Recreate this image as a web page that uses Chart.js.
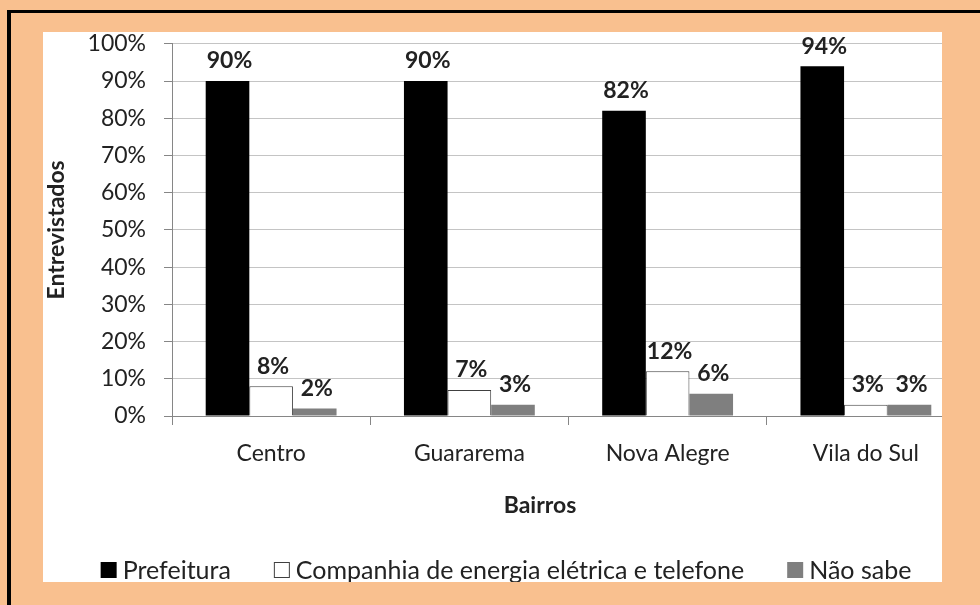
<!DOCTYPE html>
<html lang="pt">
<head>
<meta charset="UTF-8">
<title>Entrevistados por bairro</title>
<script src="https://cdn.jsdelivr.net/npm/chart.js"></script>
<style>
  html, body { margin: 0; padding: 0; }
  body { width: 980px; height: 605px; background: #f9c08f; position: relative; overflow: hidden; }
  /* black frame, only top and left edges are visible */
  .frame { position: absolute; left: 7px; top: 10px; width: 1000px; height: 700px;
           border-top: 3px solid #000; border-left: 4px solid #000; }
  .panel { position: absolute; left: 43px; top: 32px; width: 899px; height: 550px;
           background: #fff; overflow: hidden; }
  #chart { position: absolute; left: 0; top: -20px; }
</style>
</head>
<body>
<div class="frame"></div>
<div class="panel">
  <canvas id="chart" width="926" height="570"></canvas>
</div>

<script>
  const bairros = ['Centro', 'Guararema', 'Nova Alegre', 'Vila do Sul'];
  const prefeitura = [90, 90, 82, 94];
  const companhia = [8, 7, 12, 3];
  const naoSabe = [2, 3, 6, 3];
  const seriesNames = ['Prefeitura', 'Companhia de energia elétrica e telefone', 'Não sabe'];
  const yTicks = [0, 10, 20, 30, 40, 50, 60, 70, 80, 90, 100];

  const FONT = 'Lato, "Open Sans", sans-serif';
  const textColor = '#222';

  // data labels, x axis title and legend are drawn by hand
  const extras = {
    id: 'extras',
    afterDatasetsDraw(chart) {
      const ctx = chart.ctx;
      ctx.save();
      ctx.font = 'bold 23px ' + FONT;
      ctx.fillStyle = textColor;
      ctx.textAlign = 'center';
      ctx.textBaseline = 'middle';
      chart.data.datasets.forEach((ds, i) => {
        chart.getDatasetMeta(i).data.forEach((bar, j) => {
          ctx.fillText(ds.data[j] + '%', bar.x + 2, bar.y - 20);
        });
      });
      ctx.restore();
    },
    afterDraw(chart) {
      const ctx = chart.ctx;
      const area = chart.chartArea;
      ctx.save();
      ctx.fillStyle = textColor;
      ctx.textBaseline = 'middle';

      // x axis title
      ctx.font = 'bold 23px ' + FONT;
      ctx.textAlign = 'center';
      ctx.fillText('Bairros', 497, area.bottom + 90);

      // legend
      ctx.font = '25px ' + FONT;
      ctx.textAlign = 'left';
      const box = 16, gap = 6, spacing = 43;
      const items = chart.data.datasets.map(ds => ({
        text: ds.label, fill: ds.backgroundColor, stroke: ds.borderColor, bw: ds.borderWidth,
        w: box + gap + ctx.measureText(ds.label).width
      }));
      const total = items.reduce((s, it) => s + it.w, 0) + spacing * (items.length - 1);
      let x = chart.width / 2 - total / 2;
      const y = area.bottom + 154;
      items.forEach(it => {
        ctx.fillStyle = it.fill;
        ctx.fillRect(x, y - box / 2, box, box);
        if (it.bw) {
          ctx.strokeStyle = it.stroke;
          ctx.lineWidth = 1;
          ctx.strokeRect(x + 0.5, y - box / 2 + 0.5, box - 1, box - 1);
        }
        ctx.fillStyle = textColor;
        ctx.fillText(it.text, x + box + gap, y + 1);
        x += it.w + spacing;
      });
      ctx.restore();
    }
  };

  new Chart(document.getElementById('chart'), {
    type: 'bar',
    data: {
      labels: bairros,
      datasets: [
        { label: seriesNames[0], data: prefeitura, backgroundColor: '#000000', borderWidth: 0 },
        { label: seriesNames[1], data: companhia, backgroundColor: '#ffffff', borderColor: '#404040', borderWidth: 1 },
        { label: seriesNames[2], data: naoSabe, backgroundColor: '#7f7f7f', borderWidth: 0 }
      ]
    },
    options: {
      responsive: false,
      animation: false,
      layout: { padding: { left: 0, right: 4, top: 11, bottom: 106 } },
      datasets: { bar: { barPercentage: 1, categoryPercentage: 0.66 } },
      plugins: { legend: { display: false }, tooltip: { enabled: false } },
      scales: {
        x: {
          afterFit: s => { s.height = 60; },
          grid: { drawOnChartArea: false, offset: true, tickLength: 9, color: '#868686' },
          border: { color: '#868686' },
          ticks: { color: textColor, font: { family: FONT, size: 23 }, padding: 15 }
        },
        y: {
          min: 0, max: 100,
          afterFit: s => { s.width = 129; },
          afterBuildTicks: s => { s.ticks = yTicks.map(v => ({ value: v })); },
          grid: { color: '#c4c4c4', tickLength: 8, tickColor: '#868686' },
          border: { color: '#868686' },
          ticks: { color: textColor, font: { family: FONT, size: 23 }, padding: 18,
                   callback: v => v + '%' },
          title: { display: true, text: 'Entrevistados', color: textColor,
                   font: { family: FONT, size: 23, weight: 'bold' }, padding: 0 }
        }
      }
    },
    plugins: [extras]
  });
</script>
</body>
</html>
